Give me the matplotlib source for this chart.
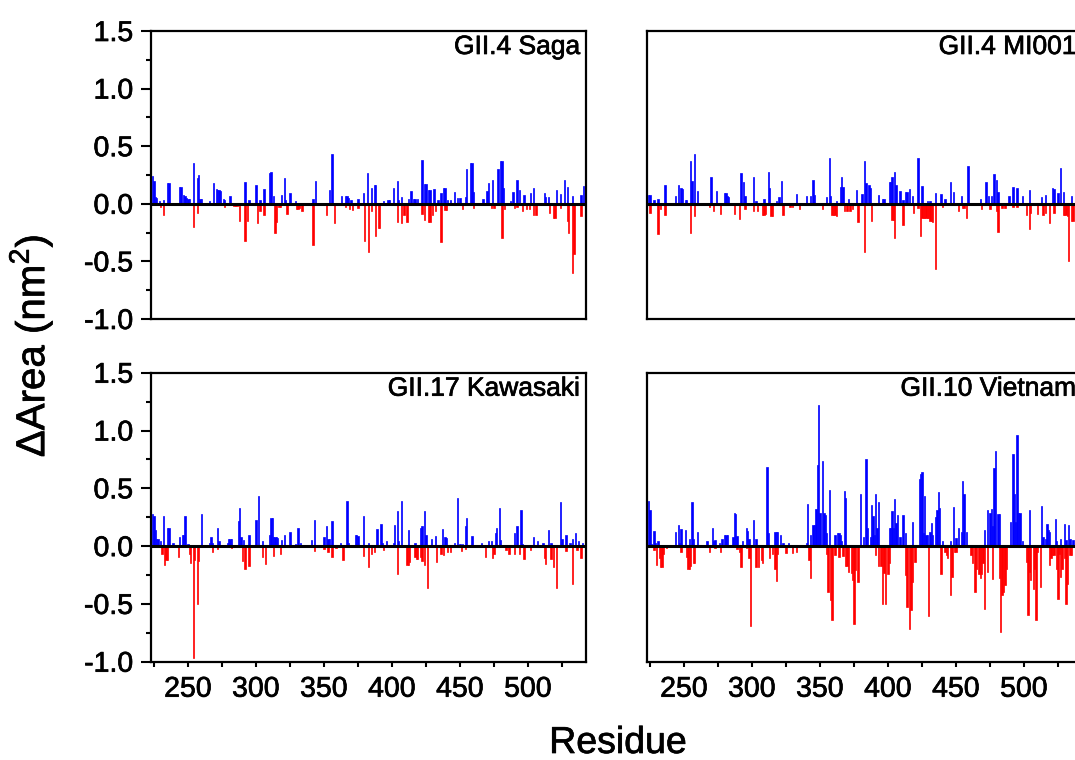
import matplotlib
matplotlib.use('Agg')
import matplotlib.pyplot as plt
import matplotlib.patheffects as pe
from matplotlib.ticker import MultipleLocator

plt.rcParams['font.family'] = ['Liberation Sans', 'DejaVu Sans']
plt.rcParams['mathtext.fontset'] = 'custom'
plt.rcParams['mathtext.rm'] = 'Liberation Sans'
plt.rcParams['axes.unicode_minus'] = False

# ---- GII.4 Saga ----
saga_pos_res = [224, 225, 226, 227, 229, 232, 235, 236, 244, 245,
                247, 248, 249, 250, 251, 254, 257, 258, 259, 260,
                264, 266, 269, 271, 272, 273, 274, 276, 277, 281,
                284, 287, 292, 295, 300, 303, 306, 310, 311, 313,
                319, 321, 322, 325, 329, 342, 344, 354, 356, 358,
                363, 366, 367, 368, 370, 375, 379, 382, 385, 387,
                388, 394, 397, 398, 401, 404, 405, 407, 412, 414,
                416, 417, 419, 422, 424, 425, 427, 428, 431, 434,
                436, 438, 439, 441, 443, 446, 448, 450, 454, 455,
                458, 459, 460, 467, 470, 471, 474, 478, 480, 481,
                482, 487, 489, 492, 494, 497, 502, 504, 512, 513,
                515, 521, 524, 527, 529, 533, 539, 541]
saga_pos_val = [0.24, 0.20, 0.06, 0.05, 0.02, 0.03, 0.18, 0.18, 0.15, 0.15,
                0.08, 0.07, 0.05, 0.04, 0.04, 0.35, 0.22, 0.25, 0.04, 0.04,
                0.01, 0.02, 0.18, 0.13, 0.12, 0.12, 0.11, 0.04, 0.03, 0.07,
                0.01, 0.01, 0.185, 0.03, 0.165, 0.035, 0.13, 0.27, 0.275, 0.07,
                0.08, 0.22, 0.03, 0.09, 0.02, 0.04, 0.20, 0.12, 0.434, 0.01,
                0.07, 0.07, 0.065, 0.05, 0.03, 0.045, 0.09, 0.27, 0.135, 0.16,
                0.16, 0.02, 0.035, 0.035, 0.135, 0.20, 0.03, 0.06, 0.04, 0.11,
                0.04, 0.04, 0.04, 0.38, 0.17, 0.17, 0.12, 0.12, 0.13, 0.03,
                0.09, 0.135, 0.135, 0.035, 0.035, 0.10, 0.05, 0.05, 0.06, 0.30,
                0.35, 0.35, 0.10, 0.04, 0.115, 0.18, 0.21, 0.30, 0.37, 0.37,
                0.135, 0.02, 0.10, 0.21, 0.12, 0.08, 0.09, 0.14, 0.09, 0.06,
                0.06, 0.12, 0.085, 0.21, 0.15, 0.065, 0.08, 0.155]
saga_neg_res = [230, 232, 254, 257, 277, 284, 285, 286, 288, 292,
                294, 301, 303, 306, 314, 315, 317, 318, 323, 330,
                331, 332, 334, 342, 352, 358, 366, 369, 371, 375,
                380, 383, 385, 388, 390, 391, 404, 407, 409, 411,
                422, 424, 427, 428, 430, 432, 436, 439, 440, 452,
                460, 473, 475, 481, 483, 490, 492, 496, 499, 501,
                504, 506, 516, 519, 520, 524, 529, 530, 533, 534,
                539]
saga_neg_val = [-0.03, -0.10, -0.20, -0.08, -0.03, -0.02, -0.02, -0.02, -0.15, -0.32,
                -0.145, -0.17, -0.06, -0.10, -0.25, -0.16, -0.03, -0.03, -0.09, -0.045,
                -0.045, -0.04, -0.065, -0.36, -0.10, -0.17, -0.03, -0.045, -0.05, -0.04,
                -0.32, -0.42, -0.065, -0.28, -0.21, -0.21, -0.16, -0.17, -0.095, -0.16,
                -0.09, -0.14, -0.16, -0.16, -0.095, -0.06, -0.33, -0.05, -0.05, -0.045,
                -0.035, -0.035, -0.035, -0.30, -0.045, -0.035, -0.03, -0.06, -0.045, -0.045,
                -0.095, -0.10, -0.08, -0.12, -0.12, -0.035, -0.15, -0.25, -0.60, -0.44,
                -0.11]

# ---- GII.4 MI001 ----
mi_pos_res = [224, 225, 228, 231, 236, 244, 246, 248, 249, 251,
              252, 255, 256, 258, 260, 268, 270, 274, 280, 281,
              282, 283, 292, 294, 295, 301, 303, 309, 312, 313,
              318, 320, 322, 333, 340, 343, 345, 346, 355, 357,
              358, 362, 365, 366, 367, 371, 377, 381, 383, 384,
              386, 387, 393, 396, 397, 401, 402, 403, 405, 406,
              409, 411, 413, 414, 416, 418, 422, 425, 429, 431,
              435, 439, 442, 446, 448, 454, 459, 468, 472, 474,
              476, 478, 480, 481, 489, 492, 495, 499, 504, 513,
              516, 521, 522, 525, 527, 529, 535]
mi_pos_val = [0.08, 0.08, 0.035, 0.045, 0.165, 0.07, 0.165, 0.135, 0.13, 0.035,
              0.035, 0.37, 0.20, 0.43, 0.11, 0.01, 0.23, 0.11, 0.09, 0.09,
              0.065, 0.06, 0.27, 0.19, 0.07, 0.23, 0.02, 0.04, 0.28, 0.14,
              0.025, 0.06, 0.20, 0.085, 0.065, 0.07, 0.21, 0.08, 0.055, 0.40,
              0.07, 0.02, 0.15, 0.23, 0.145, 0.04, 0.12, 0.085, 0.37, 0.18,
              0.165, 0.135, 0.08, 0.04, 0.04, 0.185, 0.19, 0.23, 0.28, 0.165,
              0.11, 0.035, 0.10, 0.10, 0.13, 0.065, 0.40, 0.155, 0.025, 0.025,
              0.09, 0.085, 0.04, 0.185, 0.10, 0.07, 0.33, 0.04, 0.185, 0.07,
              0.07, 0.26, 0.21, 0.10, 0.07, 0.145, 0.14, 0.065, 0.12, 0.06,
              0.08, 0.135, 0.13, 0.09, 0.31, 0.105, 0.065]
mi_neg_res = [225, 231, 233, 236, 255, 258, 269, 272, 277, 287,
              291, 295, 301, 304, 308, 309, 310, 314, 315, 323,
              328, 330, 335, 352, 359, 360, 361, 362, 368, 370,
              372, 374, 378, 383, 388, 403, 404, 405, 411, 419,
              422, 424, 425, 426, 427, 428, 429, 430, 431, 432,
              433, 435, 440, 452, 455, 456, 458, 469, 475, 480,
              481, 484, 486, 492, 495, 502, 504, 505, 510, 514,
              516, 519, 522, 529, 530, 531, 532, 533, 535, 536]
mi_neg_val = [-0.08, -0.265, -0.045, -0.095, -0.255, -0.11, -0.03, -0.065, -0.085, -0.085,
              -0.13, -0.045, -0.06, -0.065, -0.095, -0.095, -0.09, -0.11, -0.11, -0.095,
              -0.025, -0.025, -0.045, -0.045, -0.095, -0.095, -0.10, -0.105, -0.065, -0.065,
              -0.06, -0.045, -0.16, -0.42, -0.15, -0.14, -0.14, -0.30, -0.18, -0.08,
              -0.04, -0.28, -0.125, -0.125, -0.125, -0.125, -0.125, -0.125, -0.15, -0.15,
              -0.16, -0.57, -0.025, -0.065, -0.04, -0.04, -0.125, -0.045, -0.045, -0.065,
              -0.245, -0.04, -0.04, -0.03, -0.03, -0.095, -0.22, -0.08, -0.09, -0.095,
              -0.08, -0.17, -0.08, -0.095, -0.095, -0.10, -0.11, -0.50, -0.15, -0.15]

# ---- GII.17 Kawasaki ----
kaw_pos_res = [224, 225, 226, 227, 228, 230, 232, 235, 236, 239,
               241, 244, 246, 247, 248, 250, 260, 266, 267, 268,
               272, 273, 279, 280, 281, 282, 287, 288, 289, 291,
               295, 300, 302, 305, 310, 311, 312, 313, 314, 315,
               316, 319, 321, 325, 329, 331, 333, 341, 343, 350,
               352, 353, 354, 356, 362, 367, 368, 373, 374, 375,
               379, 383, 389, 392, 393, 396, 401, 402, 404, 405,
               407, 412, 417, 421, 422, 424, 425, 429, 432, 437,
               439, 440, 446, 448, 450, 452, 454, 455, 459, 466,
               471, 473, 476, 477, 479, 480, 490, 492, 495, 496,
               504, 507, 511, 515, 517, 524, 525, 528, 531, 533,
               535, 537, 540]
kaw_pos_val = [0.275, 0.26, 0.14, 0.065, 0.06, 0.04, 0.26, 0.16, 0.16, 0.025,
               0.01, 0.08, 0.10, 0.10, 0.26, 0.015, 0.275, 0.025, 0.08, 0.025,
               0.16, 0.045, 0.025, 0.065, 0.065, 0.06, 0.215, 0.33, 0.08, 0.05,
               0.10, 0.23, 0.43, 0.04, 0.10, 0.245, 0.24, 0.08, 0.08, 0.08,
               0.07, 0.05, 0.10, 0.125, 0.02, 0.155, 0.025, 0.05, 0.225, 0.08,
               0.175, 0.065, 0.065, 0.215, 0.03, 0.39, 0.025, 0.095, 0.095, 0.09,
               0.26, 0.025, 0.15, 0.19, 0.03, 0.045, 0.025, 0.18, 0.30, 0.04,
               0.39, 0.14, 0.03, 0.16, 0.175, 0.30, 0.10, 0.06, 0.085, 0.15,
               0.08, 0.07, 0.025, 0.42, 0.02, 0.02, 0.175, 0.24, 0.09, 0.03,
               0.045, 0.045, 0.115, 0.155, 0.33, 0.05, 0.115, 0.17, 0.31, 0.015,
               0.08, 0.04, 0.025, 0.135, 0.03, 0.38, 0.06, 0.095, 0.03, 0.06,
               0.11, 0.04, 0.03]
kaw_neg_res = [231, 233, 234, 235, 243, 251, 252, 254, 255, 257,
               258, 268, 272, 282, 290, 292, 295, 305, 307, 313,
               318, 343, 350, 353, 356, 359, 364, 379, 383, 385,
               387, 394, 404, 411, 412, 413, 417, 418, 419, 421,
               422, 424, 426, 433, 436, 438, 441, 443, 451, 454,
               469, 474, 475, 484, 486, 490, 494, 497, 502, 512,
               513, 517, 519, 521, 528, 533, 536, 539]
kaw_neg_val = [-0.065, -0.165, -0.12, -0.12, -0.09, -0.065, -0.145, -0.97, -0.12, -0.50,
               -0.13, -0.05, -0.025, -0.02, -0.13, -0.20, -0.17, -0.09, -0.155, -0.085,
               -0.065, -0.045, -0.025, -0.05, -0.09, -0.02, -0.12, -0.085, -0.185, -0.065,
               -0.05, -0.03, -0.24, -0.165, -0.165, -0.14, -0.09, -0.11, -0.11, -0.09,
               -0.13, -0.165, -0.36, -0.14, -0.065, -0.08, -0.05, -0.05, -0.045, -0.025,
               -0.09, -0.10, -0.065, -0.035, -0.065, -0.065, -0.07, -0.11, -0.03, -0.10,
               -0.155, -0.11, -0.18, -0.365, -0.045, -0.33, -0.03, -0.10]

# ---- GII.10 Vietnam ----
viet_pos_res = [224, 225, 226, 228, 229, 231, 244, 246, 247, 248,
                251, 254, 256, 257, 260, 267, 271, 272, 273, 276,
                278, 280, 281, 282, 286, 287, 288, 289, 293, 296,
                297, 298, 301, 303, 311, 312, 317, 318, 319, 321,
                323, 327, 340, 341, 343, 345, 346, 347, 348, 349,
                350, 352, 353, 354, 355, 357, 361, 363, 364, 365,
                366, 368, 369, 380, 382, 384, 385, 387, 388, 389,
                390, 391, 392, 393, 401, 402, 403, 404, 405, 406,
                407, 409, 411, 413, 418, 423, 424, 425, 426, 427,
                428, 429, 431, 432, 433, 435, 436, 437, 438, 440,
                446, 448, 450, 452, 454, 455, 456, 458, 471, 473,
                475, 476, 477, 478, 479, 481, 482, 490, 492, 493,
                494, 495, 496, 497, 499, 504, 513, 514, 516, 517,
                518, 519, 523, 524, 527, 530, 531, 533, 534, 536]
viet_pos_val = [0.39, 0.31, 0.02, 0.13, 0.03, 0.045, 0.125, 0.18, 0.03, 0.15,
                0.14, 0.06, 0.38, 0.06, 0.12, 0.04, 0.16, 0.045, 0.055, 0.03,
                0.065, 0.10, 0.10, 0.10, 0.075, 0.285, 0.28, 0.09, 0.045, 0.155,
                0.13, 0.065, 0.23, 0.06, 0.68, 0.115, 0.12, 0.12, 0.12, 0.095,
                0.03, 0.03, 0.03, 0.365, 0.10, 0.18, 0.18, 0.32, 0.70, 1.22,
                0.285, 0.74, 0.29, 0.27, 0.115, 0.485, 0.10, 0.115, 0.115, 0.10,
                0.045, 0.48, 0.42, 0.45, 0.08, 0.75, 0.16, 0.08, 0.355, 0.26,
                0.095, 0.45, 0.16, 0.38, 0.155, 0.155, 0.30, 0.155, 0.405, 0.20,
                0.265, 0.08, 0.265, 0.11, 0.205, 0.58, 0.62, 0.64, 0.115, 0.435,
                0.095, 0.095, 0.125, 0.20, 0.095, 0.255, 0.31, 0.47, 0.33, 0.04,
                0.04, 0.335, 0.07, 0.155, 0.125, 0.56, 0.45, 0.125, 0.14, 0.31,
                0.285, 0.32, 0.17, 0.675, 0.82, 0.28, 0.28, 0.21, 0.80, 0.45,
                0.21, 0.96, 0.29, 0.29, 0.045, 0.31, 0.35, 0.08, 0.065, 0.19,
                0.14, 0.125, 0.235, 0.04, 0.06, 0.19, 0.05, 0.18, 0.065, 0.05]
viet_neg_res = [228, 230, 232, 233, 234, 235, 237, 248, 252, 253,
                254, 255, 257, 258, 269, 273, 277, 289, 291, 292,
                296, 298, 299, 303, 305, 307, 308, 313, 315, 317,
                318, 319, 325, 330, 333, 342, 343, 355, 356, 358,
                359, 361, 364, 367, 369, 370, 371, 373, 374, 375,
                376, 378, 391, 393, 395, 396, 397, 398, 400, 401,
                413, 414, 416, 417, 418, 420, 430, 439, 442, 443,
                444, 446, 447, 449, 450, 461, 462, 464, 465, 467,
                468, 469, 470, 471, 473, 477, 482, 483, 484, 485,
                486, 487, 502, 503, 504, 505, 507, 508, 509, 510,
                512, 519, 520, 521, 522, 524, 525, 526, 527, 528,
                530, 531, 532, 534, 535]
viet_neg_val = [-0.03, -0.16, -0.105, -0.18, -0.18, -0.07, -0.02, -0.055, -0.09, -0.20,
                -0.20, -0.17, -0.15, -0.15, -0.055, -0.02, -0.05, -0.025, -0.05, -0.18,
                -0.02, -0.10, -0.695, -0.18, -0.18, -0.12, -0.15, -0.105, -0.07, -0.195,
                -0.305, -0.07, -0.06, -0.06, -0.05, -0.12, -0.28, -0.065, -0.40, -0.47,
                -0.64, -0.08, -0.09, -0.085, -0.17, -0.17, -0.22, -0.23, -0.29, -0.67,
                -0.21, -0.31, -0.08, -0.17, -0.175, -0.505, -0.23, -0.505, -0.24, -0.15,
                -0.25, -0.525, -0.715, -0.555, -0.31, -0.135, -0.605, -0.24, -0.05, -0.08,
                -0.105, -0.425, -0.27, -0.05, -0.05, -0.08, -0.15, -0.395, -0.195, -0.24,
                -0.28, -0.24, -0.15, -0.54, -0.22, -0.285, -0.28, -0.745, -0.425, -0.395,
                -0.34, -0.195, -0.135, -0.60, -0.22, -0.295, -0.37, -0.195, -0.64, -0.05,
                -0.35, -0.165, -0.10, -0.08, -0.08, -0.195, -0.455, -0.07, -0.265, -0.195,
                -0.105, -0.505, -0.325, -0.08, -0.08]

W, H = 1075, 760
fig = plt.figure(figsize=(W / 100, H / 100), dpi=100)

# slightly heavier strokes on text, the source was rendered with a chunky Arial
heavy = [pe.withStroke(linewidth=0.5, foreground='black')]


def add_ax(left, top, right, bottom):
    # pixel box -> figure fraction (right column runs past the figure edge)
    return fig.add_axes([left / W, 1 - bottom / H, (right - left) / W, (bottom - top) / H])


panels = [
    (add_ax(151.3, 31, 586, 319), saga_pos_res, saga_pos_val, saga_neg_res, saga_neg_val,
     'GII.4 Saga', False, True),
    (add_ax(647.3, 31, 1082, 319), mi_pos_res, mi_pos_val, mi_neg_res, mi_neg_val,
     'GII.4 MI001', False, False),
    (add_ax(151.3, 372.7, 586, 661.7), kaw_pos_res, kaw_pos_val, kaw_neg_res, kaw_neg_val,
     'GII.17 Kawasaki', True, True),
    (add_ax(647.3, 372.7, 1082, 661.7), viet_pos_res, viet_pos_val, viet_neg_res, viet_neg_val,
     'GII.10 Vietnam', True, False),
]

for ax, pr, pv, nr, nv, name, show_x, show_y in panels:
    ax.bar(pr, pv, width=1.0, color='#0000ff', edgecolor='#0000ff', linewidth=0.5)
    ax.bar(nr, nv, width=1.0, color='#ff0000', edgecolor='#ff0000', linewidth=0.5)
    ax.axhline(0, color='black', lw=2.2, zorder=3)
    ax.set_xlim(223.1, 542.7)
    ax.set_ylim(-1.0, 1.5)
    for sp in ax.spines.values():
        sp.set_linewidth(1.6)
    ax.xaxis.set_major_locator(MultipleLocator(50))
    ax.xaxis.set_minor_locator(MultipleLocator(25))
    ax.yaxis.set_major_locator(MultipleLocator(0.5))
    ax.yaxis.set_minor_locator(MultipleLocator(0.25))
    ax.yaxis.set_major_formatter(plt.FuncFormatter(lambda v, p: f'{v:.1f}'))
    ax.tick_params(axis='y', which='major', direction='out', length=7, width=1.5,
                   labelsize=20.5, pad=6)
    ax.tick_params(axis='y', which='minor', direction='out', length=3.6, width=1.5)
    ax.tick_params(axis='x', which='both', direction='out', length=3.8, width=1.5,
                   labelsize=20.5, pad=7)
    ax.tick_params(axis='x', which='both', top=False)
    ax.tick_params(axis='y', which='both', right=False)
    if not show_x:
        ax.tick_params(axis='x', which='both', bottom=False, labelbottom=False)
    if not show_y:
        ax.tick_params(axis='y', which='both', left=False, labelleft=False)
    for lab in ax.get_xticklabels() + ax.get_yticklabels():
        lab.set_path_effects(heavy)
    ax.text(1 - 6 / 434.7, 1 - 4 / 288, name, transform=ax.transAxes,
            ha='right', va='top', fontsize=19, path_effects=heavy)

fig.text(31 / W, 1 - 346 / H, 'ΔArea (nm$^2$)', rotation=90, ha='center', va='center',
         fontsize=29, path_effects=heavy)
fig.text(618 / W, 1 - 753 / H, 'Residue', ha='center', va='baseline', fontsize=27,
         path_effects=heavy)

fig.savefig('out.png', dpi=100)
